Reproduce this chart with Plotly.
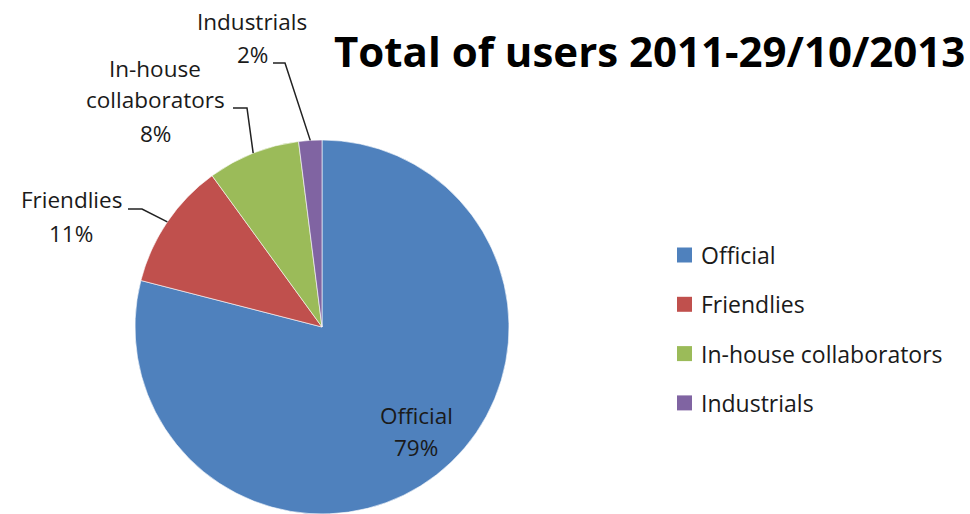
import math
import plotly.graph_objects as go

# Share of users by category
categories = ["Official", "Friendlies", "In-house collaborators", "Industrials"]
shares = [79, 11, 8, 2]
colors = ["#4F81BD", "#C0504D", "#9BBB59", "#8064A2"]
title_text = "Total of users 2011-29/10/2013"

W, H = 970, 514
FONT = "Open Sans"
TEXT_COLOR = "#1a1a1a"

# Pie geometry in pixels
CX, CY, R = 322, 327, 187


def fx(x):
    return x / W


def fy(y):
    return 1 - y / H


total = sum(shares)
pcts = [f"{v / total * 100:.0f}%" for v in shares]

# Mid-angle (clockwise from 12 o'clock) of each slice
mid_angles = []
acc = 0
for v in shares:
    mid_angles.append((acc + v / 2) / total * 360)
    acc += v


def edge_point(angle_deg, frac=1.0):
    a = math.radians(angle_deg)
    return CX + frac * R * math.sin(a), CY - frac * R * math.cos(a)


fig = go.Figure(
    go.Pie(
        labels=categories,
        values=shares,
        sort=False,
        direction="clockwise",
        rotation=0,
        marker=dict(colors=colors, line=dict(color="white", width=0.6)),
        textinfo="none",
        hoverinfo="label+percent",
        showlegend=False,
        domain=dict(x=[fx(CX - R), fx(CX + R)], y=[0, (2 * R) / H]),
    )
)

annotations = []
shapes = []


def add_text(text, x, y, size=22.5, bold=False, color=TEXT_COLOR, xanchor="center"):
    annotations.append(
        dict(
            text=f"<b>{text}</b>" if bold else text,
            x=fx(x), y=fy(y), xref="paper", yref="paper",
            xanchor=xanchor, yanchor="middle", showarrow=False,
            font=dict(family=FONT, size=size, color=color),
        )
    )


# Outside data labels: text centre x, line middles, leader start and elbow
outside = {
    "Industrials": dict(x=252, lines_y=[22, 55], start=(273, 63), elbow=285),
    "In-house collaborators": dict(x=155, lines_y=[69, 100, 134], start=(233, 108), elbow=247),
    "Friendlies": dict(x=71, lines_y=[200, 234], start=(128, 209), elbow=142),
}
# Inside label: distance along the mid-angle and a small nudge
INSIDE_FRAC, INSIDE_NUDGE = 0.745, (9, -6)

for i, cat in enumerate(categories):
    if cat in outside:
        spec = outside[cat]
        words = cat.split(" ")
        name_lines = words if len(spec["lines_y"]) - 1 == len(words) else [cat]
        for line, y in zip(name_lines + [pcts[i]], spec["lines_y"]):
            add_text(line, spec["x"], y)
        ex, ey = edge_point(mid_angles[i])
        sx, sy = spec["start"]
        path = (f"M {fx(sx)} {fy(sy)} L {fx(spec['elbow'])} {fy(sy)} "
                f"L {fx(ex)} {fy(ey)}")
        shapes.append(dict(type="path", path=path, xref="paper", yref="paper",
                           line=dict(color="#222222", width=1.5)))
    else:
        lx, ly = edge_point(mid_angles[i], INSIDE_FRAC)
        lx += INSIDE_NUDGE[0]
        ly += INSIDE_NUDGE[1]
        add_text(cat, lx, ly - 16)
        add_text(pcts[i], lx, ly + 16)

# Title
add_text(title_text, 649, 51, size=42, bold=True, color="black")

# Legend: coloured squares with labels
LEG_X, LEG_Y0, LEG_STEP, SQ = 677, 255, 49.3, 15
for i, cat in enumerate(categories):
    yc = LEG_Y0 + i * LEG_STEP
    shapes.append(dict(type="rect", xref="paper", yref="paper",
                       x0=fx(LEG_X), x1=fx(LEG_X + SQ),
                       y0=fy(yc - SQ / 2), y1=fy(yc + SQ / 2),
                       fillcolor=colors[i], line=dict(width=0)))
    add_text(cat, LEG_X + SQ + 7, yc, size=23, xanchor="left")

fig.update_layout(
    width=W, height=H,
    margin=dict(l=0, r=0, t=0, b=0),
    paper_bgcolor="white", plot_bgcolor="white",
    annotations=annotations, shapes=shapes,
    showlegend=False,
)

fig.write_html("out.html")
